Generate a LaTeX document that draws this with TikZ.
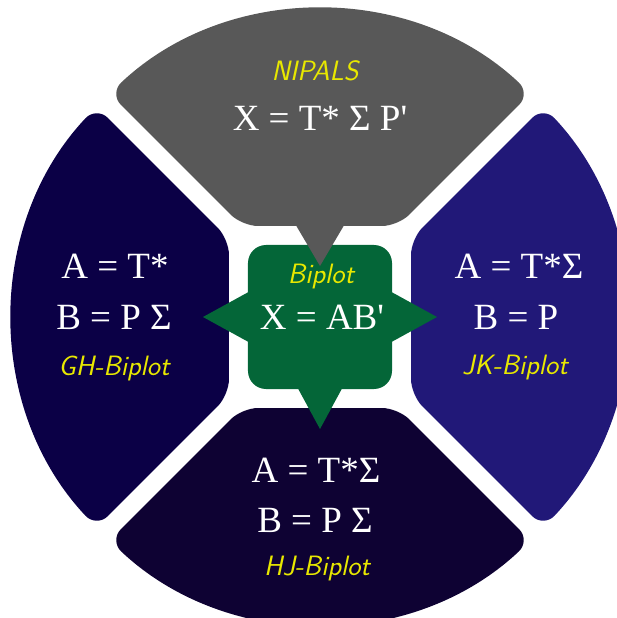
\documentclass[tikz,border=0pt]{standalone}
\usepackage{fontspec}
\newfontfamily\formfont{Liberation Serif}
\definecolor{secgray}{RGB}{88,88,88}
\definecolor{secnavy}{RGB}{11,0,70}
\definecolor{secblue}{RGB}{33,24,120}
\definecolor{secdark}{RGB}{14,2,51}
\definecolor{biplotgreen}{RGB}{4,102,56}
\definecolor{labelyellow}{RGB}{232,232,0}
\begin{document}
\begin{tikzpicture}[x=1pt,y=1pt,
  sector/.style={rounded corners=16pt},
  formula/.style={text=white,font=\formfont\fontsize{37}{44}\selectfont},
  method/.style={text=labelyellow,font=\sffamily\itshape\fontsize{28}{33}\selectfont}]
\useasboundingbox (-320,-301) rectangle (297,317);
\fill[secnavy,sector] (-91,-78) -- (223.28:307) arc[start angle=223.28,end angle=136.72,radius=307] -- (-91,78) -- cycle;
\fill[secblue,sector] (91,78) -- (43.28:307) arc[start angle=43.28,end angle=-43.28,radius=307] -- (91,-78) -- cycle;
\fill[secdark,sector] (78,-91) -- (313.28:307) arc[start angle=313.28,end angle=226.72,radius=307] -- (-78,-91) -- cycle;
\fill[secgray,sector] (-78,91) -- (133.28:307) arc[start angle=133.28,end angle=46.72,radius=307] -- (78,91) -- cycle;
\fill[biplotgreen,rounded corners=18pt] (-72,-72) rectangle (72,72);
\fill[biplotgreen] (-66,28) -- (-117,0) -- (-66,-28) -- cycle;
\fill[biplotgreen] (66,28) -- (117,0) -- (66,-28) -- cycle;
\fill[biplotgreen] (-25,-66) -- (0,-112) -- (25,-66) -- cycle;
\fill[secgray] (-26,95) -- (0,51) -- (26,95) -- cycle;
\node[method] (nipals) at (-5,246) {NIPALS};
\node[formula] (xform) at (0,199) {X = T* Σ P\textquotesingle};
\node[method] (biplot) at (1,40) {Biplot};
\node[formula] (xab) at (2,0) {X = AB\textquotesingle};
\node[formula] (gha) at (-205,51) {A = T*};
\node[formula] (ghb) at (-206,0) {B = P Σ};
\node[method] (ghname) at (-206,-51) {GH-Biplot};
\node[formula] (jka) at (199,51) {A = T*Σ};
\node[formula] (jkb) at (196,0) {B = P};
\node[method] (jkname) at (195,-51) {JK-Biplot};
\node[formula] (hja) at (-4,-153) {A = T*Σ};
\node[formula] (hjb) at (-5,-203) {B = P Σ};
\node[method] (hjname) at (-3,-252) {HJ-Biplot};
\end{tikzpicture}
\end{document}
